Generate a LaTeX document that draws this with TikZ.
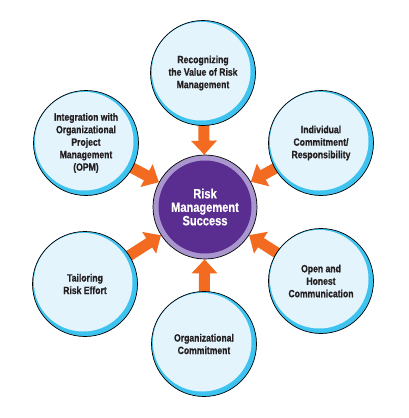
\documentclass[tikz,border=0pt]{standalone}
\usepackage{fontspec}
\newfontfamily\cond[FakeStretch=0.82,FakeBold=0.6]{Liberation Sans}
\usetikzlibrary{arrows.meta}
\pgfdeclarelayer{paper}
\pgfdeclarelayer{bg}
\pgfsetlayers{paper,bg,main}
\definecolor{arrorange}{HTML}{F26B21}
\definecolor{palefill}{HTML}{E4F4FD}
\definecolor{ringcyan}{HTML}{3CC3F0}
\definecolor{lavring}{HTML}{A996CE}
\definecolor{purplefill}{HTML}{5A2D91}
\definecolor{txtdark}{HTML}{231F20}
\tikzset{
  outercirc/.style={circle, minimum size=105pt, inner sep=0pt, fill=ringcyan, draw=black, line width=0.7pt,
    align=center, text=txtdark, font=\cond\bfseries\fontsize{10.5}{12.5}\selectfont,
    path picture={\fill[palefill] ([xshift=-1.8pt,yshift=1.8pt]path picture bounding box.center) circle (49.3pt);}},
  centercirc/.style={circle, minimum size=104pt, inner sep=0pt, fill=lavring, draw=black, line width=0.7pt,
    align=center, text=white, font=\cond\bfseries\fontsize{13.5}{13.5}\selectfont,
    path picture={\fill[purplefill] (path picture bounding box.center) circle (46.5pt);}},
  blockarrow/.style={draw=arrorange, line width=11pt, -{Triangle[width=25pt,length=14pt]}}
}
\begin{document}
\begin{tikzpicture}[x=1pt,y=-1pt]
\begin{pgfonlayer}{paper}
\useasboundingbox[fill=white] (0,0) rectangle (409,418);
\end{pgfonlayer}
\node[centercirc] (c) at (205,207) {Risk\\Management\\Success};
\node[outercirc] (t) at (203,73) {Recognizing\\the Value of Risk\\Management};
\node[outercirc] (ul) at (86,143) {Integration with\\Organizational\\Project\\Management\\(OPM)};
\node[outercirc] (ur) at (321,143) {Individual\\Commitment/\\Responsibility};
\node[outercirc] (ll) at (85,284) {Tailoring\\Risk Effort};
\node[outercirc] (lr) at (321,281) {Open and\\Honest\\Communication};
\node[outercirc] (b) at (204,344) {Organizational\\Commitment};
\begin{pgfonlayer}{bg}
\foreach \n in {t,ul,ur,ll,lr,b}{
  \draw[blockarrow, shorten <=-6pt] (\n) -- (c);
}
\end{pgfonlayer}
\end{tikzpicture}
\end{document}
